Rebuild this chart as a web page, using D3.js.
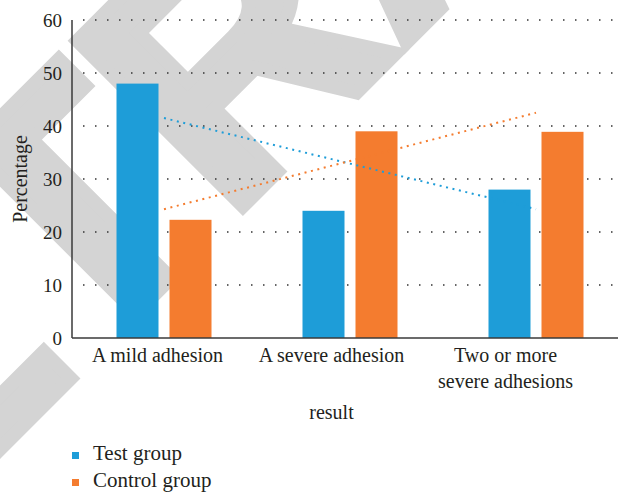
<!DOCTYPE html>
<html>
<head>
<meta charset="utf-8">
<script src="https://cdn.jsdelivr.net/npm/d3@7"></script>
<style>
  body { margin: 0; background: #fff; }
  svg { display: block; }
  text { font-family: "Liberation Serif", "Times New Roman", serif; fill: #231f20; }
</style>
</head>
<body>
<div id="graph"></div>
<script>
// chart values
var categories = [ "A mild adhesion", "A severe adhesion", "Two or more severe adhesions" ];
var categoryLines = [ [ "A mild adhesion" ], [ "A severe adhesion" ], [ "Two or more", "severe adhesions" ] ];
var seriesNames = [ "Test group", "Control group" ];
var testValues = [ 48, 24, 28 ];
var controlValues = [ 22.3, 39, 38.9 ];
// dotted trend lines, value at first and last category
var testTrend = [ 41.5, 24.3 ];
var controlTrend = [ 24.3, 42.5 ];
var yTicks = [ 0, 10, 20, 30, 40, 50, 60 ];

var colors = { "Test group": "#1e9dd8", "Control group": "#f47c2f" };

var width = 618, height = 495;
var margin = { top: 20, left: 72, bottom: 157 };

var svg = d3.select( "#graph" ).append( "svg" )
    .attr( "width", width )
    .attr( "height", height );

// watermark behind the chart
svg.append( "text" )
    .attr( "transform", "translate( -254, 703 ) rotate( -45 )" )
    .style( "font-family", "'Liberation Sans', Arial, sans-serif" )
    .style( "font-weight", "bold" )
    .style( "font-size", "340px" )
    .style( "fill", "#d4d4d4" )
    .style( "stroke", "#d4d4d4" )
    .style( "stroke-width", 14 )
    .style( "stroke-linejoin", "miter" )
    .text( "RETRACTED" );

// scales
var y = d3.scaleLinear().domain( [ 0, 60 ] ).range( [ height - margin.bottom, margin.top ] );
var x0 = d3.scaleBand().domain( categories ).range( [ 71, 629 ] )
    .paddingInner( 91 / 186 ).paddingOuter( 91 / 372 );
var x1 = d3.scaleBand().domain( seriesNames ).range( [ 0, x0.bandwidth() ] )
    .paddingInner( 11 / 53 );
// category labels sit on a slightly narrower band than the bars
var xLabel = d3.scaleBand().domain( categories ).range( [ 70.5, 592.5 ] );

// dotted grid lines
svg.append( "g" )
  .selectAll( "line" )
    .data( yTicks.filter( function( d ){ return d > 0; } ) )
  .enter().append( "line" )
    .attr( "x1", margin.left + 11 )
    .attr( "x2", width )
    .attr( "y1", function( d ){ return y( d ); } )
    .attr( "y2", function( d ){ return y( d ); } )
    .attr( "stroke", "#333" )
    .attr( "stroke-width", 1.5 )
    .attr( "stroke-dasharray", "1.5 10.5" );

// bars
var rows = categories.map( function( c, i ){
    return { cat: c, values: [
        { name: "Test group", value: testValues[ i ] },
        { name: "Control group", value: controlValues[ i ] } ] };
} );

svg.append( "g" )
  .selectAll( "g" )
    .data( rows )
  .enter().append( "g" )
    .attr( "transform", function( d ){ return "translate( " + x0( d.cat ) + ", 0 )"; } )
  .selectAll( "rect" )
    .data( function( d ){ return d.values; } )
  .enter().append( "rect" )
    .attr( "x", function( d ){ return x1( d.name ); } )
    .attr( "width", x1.bandwidth() )
    .attr( "y", function( d ){ return y( d.value ); } )
    .attr( "height", function( d ){ return y( 0 ) - y( d.value ); } )
    .attr( "fill", function( d ){ return colors[ d.name ]; } );

// trend lines
var first = categories[ 0 ], last = categories[ categories.length - 1 ];
var trendLine = d3.line()
    .x( function( d ){ return x0( d.cat ) + x0.bandwidth() / 2; } )
    .y( function( d ){ return y( d.value ); } );

[ [ "Test group", testTrend ], [ "Control group", controlTrend ] ].forEach( function( t ){
    svg.append( "path" )
        .datum( [ { cat: first, value: t[ 1 ][ 0 ] }, { cat: last, value: t[ 1 ][ 1 ] } ] )
        .attr( "d", trendLine )
        .attr( "fill", "none" )
        .attr( "stroke", colors[ t[ 0 ] ] )
        .attr( "stroke-width", 2 )
        .attr( "stroke-dasharray", "2 4.6" );
} );

// axes lines
svg.append( "line" )
    .attr( "x1", margin.left ).attr( "x2", margin.left )
    .attr( "y1", y( 60 ) ).attr( "y2", y( 0 ) )
    .attr( "stroke", "#3a3a3a" ).attr( "stroke-width", 1.5 );
svg.append( "line" )
    .attr( "x1", margin.left ).attr( "x2", width )
    .attr( "y1", y( 0 ) ).attr( "y2", y( 0 ) )
    .attr( "stroke", "#3a3a3a" ).attr( "stroke-width", 1.5 );

// y tick labels
svg.append( "g" )
  .selectAll( "text" )
    .data( yTicks )
  .enter().append( "text" )
    .attr( "x", margin.left - 10 )
    .attr( "y", function( d ){ return y( d ) + 7; } )
    .attr( "text-anchor", "end" )
    .style( "font-size", "19px" )
    .text( function( d ){ return d; } );

// category labels
svg.append( "g" )
  .selectAll( "text" )
    .data( categories )
  .enter().append( "text" )
    .attr( "text-anchor", "middle" )
    .style( "font-size", "20px" )
    .attr( "transform", function( d ){
        return "translate( " + ( xLabel( d ) + xLabel.bandwidth() / 2 ) + ", " + ( y( 0 ) + 24 ) + " )";
    } )
  .selectAll( "tspan" )
    .data( function( d ){ return categoryLines[ categories.indexOf( d ) ]; } )
  .enter().append( "tspan" )
    .attr( "x", 0 )
    .attr( "dy", function( d, i ){ return i ? 26 : 0; } )
    .text( function( d ){ return d; } );

// axis titles
svg.append( "text" )
    .attr( "x", xLabel( categories[ 1 ] ) + xLabel.bandwidth() / 2 )
    .attr( "y", 419 )
    .attr( "text-anchor", "middle" )
    .style( "font-size", "20px" )
    .text( "result" );

svg.append( "text" )
    .attr( "transform", "translate( 27, " + ( ( y( 0 ) + y( 60 ) ) / 2 ) + " ) rotate( -90 )" )
    .attr( "text-anchor", "middle" )
    .style( "font-size", "20px" )
    .text( "Percentage" );

// legend
var legend = svg.append( "g" )
  .selectAll( "g" )
    .data( seriesNames )
  .enter().append( "g" )
    .attr( "transform", function( d, i ){ return "translate( 72, " + ( 452 + i * 27 ) + " )"; } );

legend.append( "rect" )
    .attr( "width", 7 ).attr( "height", 7 )
    .attr( "fill", function( d ){ return colors[ d ]; } );

legend.append( "text" )
    .attr( "x", 21 ).attr( "y", 8 )
    .style( "font-size", "21px" )
    .text( function( d ){ return d; } );
</script>
</body>
</html>
